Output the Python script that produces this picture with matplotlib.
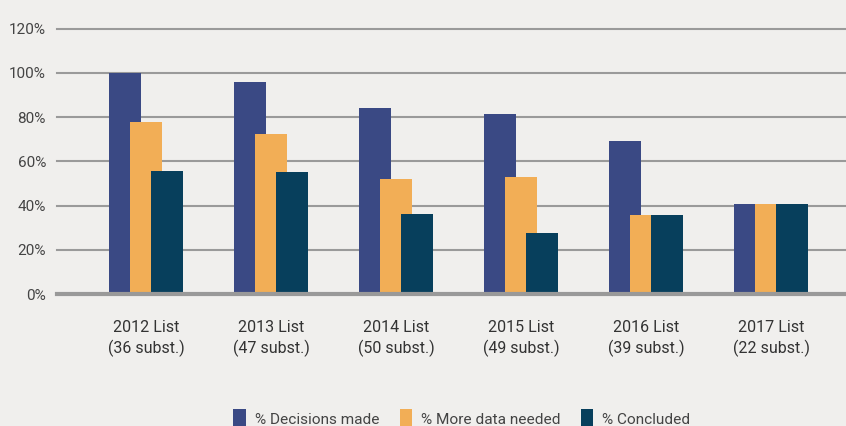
import numpy as np
import matplotlib.pyplot as plt
from matplotlib.patches import Patch

lists = ['2012 List\n(36 subst.)', '2013 List\n(47 subst.)', '2014 List\n(50 subst.)',
         '2015 List\n(49 subst.)', '2016 List\n(39 subst.)', '2017 List\n(22 subst.)']
decisions = [100.0, 95.7, 84.0, 81.6, 69.2, 40.9]
more_data = [77.8, 72.3, 52.0, 53.1, 35.9, 40.9]
concluded = [55.6, 55.3, 36.0, 27.8, 35.9, 40.9]
series_names = ['% Decisions made', '% More data needed', '% Concluded']
colors = ['#3a4984', '#f2ae56', '#073f5c']

plt.rcParams['font.family'] = ['Roboto', 'DejaVu Sans']

fig = plt.figure(figsize=(8.46, 4.26), dpi=100, facecolor='#f0efed')
ax = fig.add_axes([57 / 846, 1 - 294 / 426, 1 - 57 / 846, (294 - 28.7) / 426])
ax.set_facecolor('#f0efed')

x = np.arange(len(lists))
w = 0.256
off = 0.168
ax.bar(x - off, decisions, w, color=colors[0], zorder=3)
ax.bar(x, more_data, w, color=colors[1], zorder=4)
ax.bar(x + off, concluded, w, color=colors[2], zorder=5)

ax.set_ylim(0, 120)
ax.set_xlim(-0.712, 5.6)
ax.set_yticks(np.arange(0, 121, 20))
ax.set_yticklabels([f'{v}%' for v in range(0, 121, 20)], fontsize=11, color='#444444')
ax.set_xticks(x)
ax.set_xticklabels(lists, fontsize=11.5, color='#333333', linespacing=1.3)
ax.tick_params(axis='both', length=0)
ax.tick_params(axis='x', pad=19)
ax.tick_params(axis='y', pad=8)
for s in ax.spines.values():
    s.set_visible(False)
for v in range(20, 121, 20):
    ax.axhline(v, color='#9a9a9a', lw=1.5, zorder=1, clip_on=False)
ax.axhline(0, color='#999999', lw=3, zorder=6, clip_on=False)

handles = [Patch(facecolor=c, edgecolor='none') for c in colors]
fig.legend(handles, series_names, loc='center', bbox_to_anchor=(0.546, 0.017),
           ncol=3, frameon=False, fontsize=11.1, handlelength=0.8, handleheight=1.5,
           handletextpad=0.6, columnspacing=1.3, labelcolor='#444444')

fig.savefig('out.png', dpi=100, facecolor=fig.get_facecolor())
